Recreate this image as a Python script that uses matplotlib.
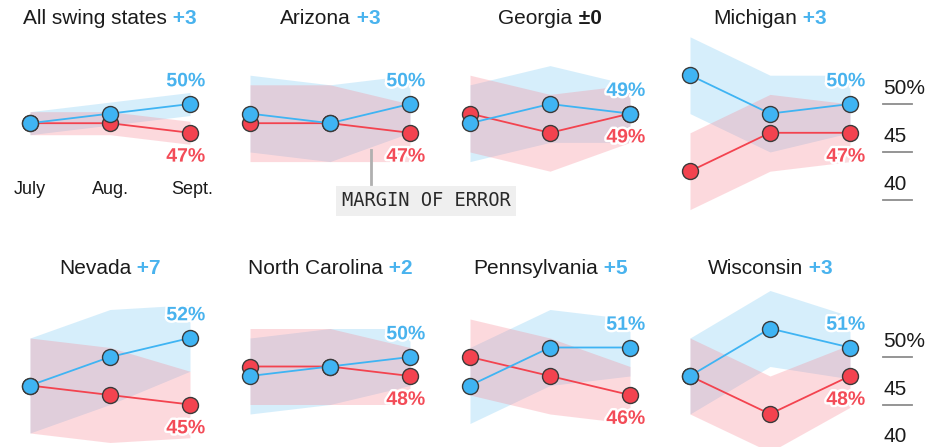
import matplotlib.pyplot as plt
import matplotlib.patheffects as pe
from matplotlib.lines import Line2D

# poll data, Harris (blue) vs Trump (red), July / Aug. / Sept.
states = ["All swing states", "Arizona", "Georgia", "Michigan",
          "Nevada", "North Carolina", "Pennsylvania", "Wisconsin"]
leads = ["+3", "+3", "±0", "+3", "+7", "+2", "+5", "+3"]
months = ["July", "Aug.", "Sept."]
harris = [[48, 49, 50], [49, 48, 50], [48, 50, 49], [53, 49, 50],
          [47, 50, 52], [48, 49, 50], [47, 51, 51], [48, 53, 51]]
trump = [[48, 48, 47], [48, 48, 47], [49, 47, 49], [43, 47, 47],
         [47, 46, 45], [49, 49, 48], [50, 48, 46], [48, 44, 48]]
moe = [[1.2, 1.2, 1.2], [4, 4, 3], [4, 4, 3], [4, 4, 3],
       [5, 5, 3.5], [4, 4, 3], [4, 4, 3], [4, 4, 3.3]]
tick_vals = [50, 45, 40]
tick_labels = ["50%", "45", "40"]

BLUE = "#3fb4f3"
RED = "#f3434f"
BLUE_TXT = "#49b3ee"
RED_TXT = "#f34c58"
DARK = "#1b1b1b"

W, H = 927, 447
fig = plt.figure(figsize=(W / 100, H / 100), dpi=100)
plt.rcParams['font.family'] = ['Liberation Sans', 'DejaVu Sans']

# pixel layout of each row: value 50 sits at ref px, px per point, axes box
ref_px = [104, 357]
px_pt = [9.6, 9.5]
box = [(30, 215), (280, 447)]
title_y = [18, 268]


def fx(px):
    return px / W


def fy(py):
    return 1 - py / H


renderer = fig.canvas.get_renderer()
white = [pe.withStroke(linewidth=3.5, foreground="white")]

for i, name in enumerate(states):
    row, col = divmod(i, 4)
    x0 = 30 + 220 * col
    top, bot = box[row]
    ax = fig.add_axes([fx(x0 - 20), fy(bot), 200 / W, (bot - top) / H])
    ax.set_xlim(-0.25, 2.25)
    ax.set_ylim(50 + (ref_px[row] - bot) / px_pt[row], 50 + (ref_px[row] - top) / px_pt[row])
    ax.axis("off")

    xs = range(len(months))
    h, t, m = harris[i], trump[i], moe[i]
    ax.fill_between(xs, [v - e for v, e in zip(h, m)], [v + e for v, e in zip(h, m)],
                    color="#46b4f0", alpha=0.22, lw=0, clip_on=False)
    ax.fill_between(xs, [v - e for v, e in zip(t, m)], [v + e for v, e in zip(t, m)],
                    color="#f88491", alpha=0.3, lw=0, clip_on=False)
    ax.plot(xs, t, color=RED, lw=1.3, marker="o", ms=11.5, mfc=RED, mec="#3a3a3a",
            mew=1, clip_on=False, zorder=3)
    ax.plot(xs, h, color=BLUE, lw=1.3, marker="o", ms=11.5, mfc=BLUE, mec="#3a3a3a",
            mew=1, clip_on=False, zorder=4)

    ax.annotate(f"{h[-1]}%", (2, h[-1]), xytext=(-3, 16), textcoords="offset points",
                ha="center", va="center", fontsize=14, fontweight="bold",
                color=BLUE_TXT, path_effects=white, zorder=5)
    ax.annotate(f"{t[-1]}%", (2, t[-1]), xytext=(-3, -17.5), textcoords="offset points",
                ha="center", va="center", fontsize=14, fontweight="bold",
                color=RED_TXT, path_effects=white, zorder=5)

    # title: state name plus coloured lead, centred over Aug.
    cx = x0 + 80
    t1 = fig.text(0, fy(title_y[row]), name, fontsize=15, color=DARK, va="center")
    lead_color = BLUE_TXT if leads[i].startswith("+") else DARK
    t2 = fig.text(0, fy(title_y[row]), " " + leads[i], fontsize=15, fontweight="bold",
                  color=lead_color, va="center")
    w1 = t1.get_window_extent(renderer).width
    w2 = t2.get_window_extent(renderer).width
    t1.set_x(fx(cx - (w1 + w2) / 2))
    t2.set_x(fx(cx - (w1 + w2) / 2 + w1))

    if i == 0:
        for k, mth in enumerate(months):
            fig.text(fx(x0 + 80 * k + (2 if k == 2 else 0)), fy(190), mth, fontsize=13,
                     color=DARK, ha="center", va="center")

    if col == 3:
        for v, lab in zip(tick_vals, tick_labels):
            ax.plot([2.41, 2.78], [v, v], color="#8c8c8c", lw=1.3, clip_on=False)
            ax.annotate(lab, (2.42, v), xytext=(0, 4), textcoords="offset points",
                        ha="left", va="bottom", fontsize=15, color=DARK,
                        annotation_clip=False)

# margin of error callout
fig.add_artist(Line2D([fx(371), fx(371)], [fy(150), fy(184)], color="#b0b0b0", lw=2))
fig.text(fx(426), fy(201), "MARGIN OF ERROR", family="DejaVu Sans Mono", fontsize=13.5,
         color="#2a2a2a", ha="center", va="center",
         bbox=dict(facecolor="#efefef", edgecolor="none", boxstyle="square,pad=0.3"))

fig.savefig("out.png", dpi=100)
